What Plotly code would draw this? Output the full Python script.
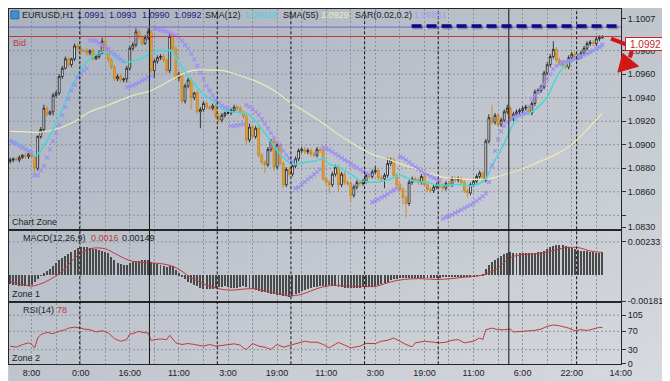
import base64
import plotly.graph_objects as go

W, H = 670, 381

# ---------------- data (prices in pips above 1.0800) ----------------
bar_start = -7          # bar index relative to the "8:00" label
open_first = 86
close_pips = [
    87, 88, 87, 89, 91, 90, 92,
    90, 80, 107, 113, 131, 126, 128, 142, 144, 158,
    165, 173, 168, 173, 184, 182, 180, 180, 178, 180,
    173, 175, 178, 188, 182, 172, 166, 156, 158, 155,
    156, 165, 182, 185, 196, 191, 186, 191, 196, 163,
    171, 174, 175, 172, 163, 192, 182, 157, 160, 137,
    150, 155, 140, 144, 128, 130, 135, 132, 131, 133,
    124, 121, 125, 127, 127, 129, 132, 131, 128, 124,
    104, 115, 107, 114, 91, 85, 83, 96, 103, 81,
    100, 84, 66, 79, 75, 82, 88, 95, 96, 94,
    95, 92, 91, 96, 95, 71, 68, 66, 75, 81,
    66, 75, 68, 67, 57, 64, 68, 67, 69, 74,
    73, 77, 78, 72, 71, 74, 84, 87, 74, 66,
    62, 55, 50, 68, 71, 70, 68, 73, 66, 62,
    61, 64, 66, 65, 63, 67, 66, 71, 70, 71,
    68, 61, 59, 66, 69, 73, 76, 70, 103, 123,
    119, 125, 117, 121, 128, 131, 122, 126, 128, 129,
    131, 132, 127, 135, 145, 146, 149, 161, 168, 175,
    181, 172, 170, 168, 166, 174, 177, 174, 175, 178,
    182, 186, 187, 186, 190, 191, 192,
]
wick_up = [
    2, 1, 2, 2, 1, 2, 1,
    2, 1, 1, 2, 3, 2, 1, 2, 2, 2,
    2, 2, 2, 1, 2, 2, 2, 1, 2, 1,
    2, 2, 2, 3, 2, 1, 2, 2, 2, 2,
    1, 2, 2, 2, 3, 2, 2, 2, 3, 2,
    2, 2, 2, 2, 1, 2, 2, 2, 2, 2,
    2, 2, 2, 1, 2, 2, 2, 2, 1, 2,
    2, 2, 2, 1, 2, 2, 2, 2, 2, 1,
    2, 3, 2, 2, 2, 2, 2, 2, 2, 2,
    2, 2, 2, 2, 2, 2, 2, 2, 2, 2,
    2, 2, 2, 2, 2, 2, 2, 2, 2, 2,
    2, 2, 2, 2, 2, 2, 2, 2, 2, 2,
    2, 2, 4, 2, 2, 2, 5, 2, 2, 2,
    2, 2, 2, 2, 2, 2, 2, 2, 2, 2,
    2, 2, 2, 2, 2, 2, 2, 2, 2, 2,
    2, 2, 2, 2, 2, 2, 2, 2, 2, 3,
    11, 2, 2, 2, 2, 3, 2, 2, 2, 2,
    2, 2, 2, 2, 2, 2, 2, 2, 2, 2,
    7, 2, 2, 2, 2, 2, 2, 2, 2, 2,
    2, 2, 2, 2, 2, 2, 1,
]
wick_dn = [
    2, 2, 1, 2, 1, 2, 2,
    1, 4, 2, 2, 2, 2, 1, 3, 2, 2,
    2, 1, 2, 2, 2, 2, 1, 2, 2, 2,
    2, 1, 2, 1, 2, 2, 2, 2, 2, 2,
    2, 3, 2, 2, 2, 2, 2, 1, 2, 2,
    6, 2, 2, 2, 2, 2, 2, 2, 3, 2,
    2, 2, 10, 2, 2, 14, 2, 2, 2, 2,
    2, 2, 2, 2, 1, 2, 2, 2, 2, 2,
    4, 2, 2, 2, 2, 2, 7, 2, 2, 3,
    2, 2, 3, 2, 2, 2, 2, 2, 2, 2,
    2, 2, 2, 2, 2, 2, 2, 7, 2, 2,
    6, 2, 2, 2, 5, 2, 2, 2, 2, 2,
    2, 2, 2, 2, 2, 8, 2, 2, 2, 2,
    2, 6, 12, 2, 2, 2, 2, 2, 2, 2,
    2, 2, 2, 2, 2, 2, 2, 2, 2, 2,
    2, 2, 4, 2, 2, 2, 2, 2, 2, 2,
    2, 2, 2, 2, 2, 2, 2, 2, 2, 2,
    2, 2, 2, 2, 2, 2, 2, 2, 2, 2,
    2, 2, 2, 2, 2, 2, 2, 2, 2, 2,
    2, 2, 2, 2, 2, 2, 1,
]
sar_pips = [
    103, 102, 100.5, 99, 97.5, 96, 94.5, 93,
    74, 74, 78, 82, 89, 96, 103, 110, 117, 125, 132, 139, 146, 151, 157,
    160, 163, 165,
    189, 188.6, 188, 186.4, 185, 182.8,
    181, 179, 177, 175, 173, 171,
    149, 149.5, 150.3, 151.7, 153, 154.5, 155.8, 157.2, 158.6,
    199, 198.3, 197.5, 196.7, 196.1, 195, 194,
    192.8, 191.1, 188.3, 185, 181.4, 177.2, 172.5, 167, 161.4, 155.8, 150.3,
    146.1, 142, 138.3, 135.6, 133.3, 131.7,
    130.6, 116, 116, 116.5, 117, 117.5,
    133.6, 132.2, 130, 128, 125.3, 121.7, 117.8, 114, 110, 105.8, 101.7,
    98.4, 94.7, 91.1, 88.3, 85.6,
    62.8, 64, 66, 68.3, 70.5, 72.5, 74.7, 76.7, 79,
    97.5, 96.7, 95.6, 93.9, 92.2, 90.6, 88.9, 87.2, 85.6, 83.9, 82.2, 80.6,
    78.9, 77.2, 75.8, 74.5,
    51.1, 52.2, 53.6, 55, 56.4, 58, 60, 61.7, 62.8,
    89.7, 88.9, 87.2, 85, 83, 81.1, 79.4, 77.8, 76.1, 74.5, 73.1, 71.7, 70.6, 69.4,
    37.2, 38.3, 39.4, 40.6, 42, 43.3, 44.7, 46.1, 47.5, 48.9, 50.5, 52.2, 54.2,
    56.1, 58.6,
    68.3, 82.2, 94.7, 104.5, 111.4, 116.1, 119.4, 121.7, 123.3, 124.5, 125.3,
    126.1, 127,
    132.2, 139.2, 142, 144.7, 148, 151.7, 155.8, 160, 164.2, 167, 168.3, 169.7,
    170.6, 171.4, 172.2, 173.1, 173.9, 175, 176.1, 177.5, 178.9, 180.3, 181.7,
    183.3, 185,
]
sma12_t = [-7, -3, 0, 1, 3, 6, 10, 14, 17, 20, 24, 26, 28, 30, 32, 35, 38, 42, 44, 45,
           47, 49, 52, 56, 59, 62, 65, 68, 70, 73, 76, 79, 82, 85, 89, 92, 95, 97, 100,
           104, 107, 110, 113, 116, 120, 123, 126, 129, 132, 136, 140, 143, 146, 148,
           150, 153, 155, 157, 159, 161, 163, 165, 168, 170, 172, 174, 176, 178, 180,
           182, 184, 186]
sma12_p = [104.5, 99, 93, 90, 95, 108, 130, 154.5, 167, 175, 179, 177, 172.5, 170, 170.5,
           172.5, 176.5, 180.5, 179.5, 180.5, 174, 166, 155, 143, 137.8, 130.8, 128, 127.5,
           127, 120, 110, 99, 89, 83.6, 85, 86, 87.8, 83.6, 80.8, 75, 69.7, 68.3, 68.3, 70,
           74, 71, 68.3, 68.3, 65.6, 65.8, 66, 65, 67, 71, 82, 96, 107, 118, 124.5, 126, 128,
           132, 140.6, 151.7, 161.4, 168, 172.5, 175, 176.7, 178, 180.8, 183]
sma55_t = [-7, -2, 3, 9, 14, 19, 25, 30, 35, 39, 42, 46, 49, 52, 56, 59, 63, 68, 74, 79,
           84, 90, 95, 100, 106, 111, 116, 122, 127, 132, 134, 137, 139, 144, 149, 155,
           160, 165, 171, 176, 181, 186]
sma55_p = [111.4, 111, 110.6, 114, 119.7, 128, 133.6, 139, 143.3, 146, 150, 155.8, 160,
           162.8, 163.6, 163.4, 162.8, 158.6, 153, 146, 136.4, 126.7, 118.3, 108.6, 98.9,
           92, 87.8, 82.2, 78, 73.9, 72.5, 71.5, 71.2, 70.5, 71, 75.3, 79.4, 85, 92, 100.3,
           112.8, 127]

# MACD histogram (units of 1e-5), one value per bar
macd_hist = [
    -62, -66, -70, -74, -76, -76, -75,
    -69, -50, -30, -5, 12, 28, 42, 65, 85, 105,
    120, 135, 150, 162, 177, 190, 200, 200, 196, 190,
    186, 180, 177, 172, 165, 152, 130, 108, 88, 75,
    69, 72, 84, 92, 98, 101, 104, 106, 108, 92,
    82, 75, 68, 62, 60, 64, 62, 39, 12, -10,
    -28, -45, -58, -67, -78, -87, -96, -99, -99, -95,
    -90, -85, -80, -76, -82, -87, -87, -87, -82, -76,
    -84, -92, -98, -104, -108, -115, -120, -125, -129, -134,
    -138, -141, -145, -148, -152, -145, -135, -124, -112, -102,
    -94, -89, -85, -81, -78, -76, -73, -70, -74, -78,
    -82, -86, -87, -87, -87, -87, -87, -87, -86, -85,
    -84, -83, -78, -72, -64, -55, -46, -37, -30, -24,
    -19, -18, -20, -22, -23, -23, -23, -23, -21, -19,
    -18, -18, -18, -18, -16, -15, -14, -12, -10, -8,
    -7, -7, -7, -7, -5, -3, 0, 3, 40, 70,
    90, 105, 118, 135, 147, 154, 160, 158, 154, 154,
    154, 154, 154, 156, 158, 161, 164, 172, 185, 195,
    204, 208, 211, 210, 204, 200, 192, 184, 177, 170,
    168, 166, 163, 160, 157, 158, 160,
]
signal_t = [-7, -3, 0, 3, 6, 10, 13, 16, 20, 24, 27, 30, 33, 36, 40, 43, 46, 49, 52, 56,
            59, 62, 65, 68, 72, 75, 78, 81, 84, 88, 91, 94, 97, 98, 102, 107, 112, 115,
            119, 124, 128, 132, 137, 141, 145, 148, 152, 155, 158, 162, 166, 171, 174,
            178, 182, 186]
signal_v = [-46, -64, -76, -60, -30, 28, 97, 154, 189, 184, 154, 120, 97, 90, 85, 78, 62,
            28, -18, -60, -83, -99, -104, -99, -94, -104, -117, -133, -145, -133, -110,
            -87, -74, -69, -76, -78, -78, -60, -37, -25, -25, -30, -23, -14, -7, 9, 51,
            108, 138, 147, 154, 177, 193, 193, 170, 159]
rsi_t = [-7, -5, -3, -1, 0, 1, 2, 3, 5, 7, 9, 11, 12, 14, 16, 17, 19, 21, 23, 25, 27, 29,
         31, 32, 33, 35, 36, 38, 39, 40, 42, 44, 45, 46, 47, 49, 51, 53, 56, 58, 60, 62,
         64, 66, 68, 69, 70, 72, 74, 76, 78, 80, 82, 84, 86, 89, 91, 93, 95, 97, 99, 100,
         102, 104, 107, 109, 112, 114, 116, 118, 120, 122, 124, 125, 128, 131, 133, 135,
         137, 139, 141, 144, 146, 147, 148, 150, 152, 154, 156, 157, 160, 162, 164, 166,
         168, 170, 172, 175, 177, 179, 181, 183, 185, 186]
rsi_v = [37.8, 35.6, 41, 45, 42, 34, 55.6, 62.8, 67.8, 65, 70, 73.5, 77, 79, 77, 75, 73.5,
         68.5, 71.4, 66.4, 54.2, 48.5, 52, 64.2, 65, 70, 67.8, 66.4, 50, 52, 53.5, 52, 61.4,
         52, 45, 41.4, 43.5, 41.4, 37.8, 41.4, 37.8, 39.2, 41.4, 42.8, 40, 34, 30.6, 43.5,
         37.8, 35.6, 30.6, 41.4, 35.6, 39.2, 43.5, 48.5, 46.4, 46.4, 41.4, 34.2, 42, 46, 40,
         34, 37.8, 43.5, 43.5, 48.5, 50.6, 55.6, 48.5, 41.4, 36.4, 45, 48.5, 46.4, 45, 46.4,
         50.6, 52, 45, 48.5, 55.6, 52, 73.5, 77, 73.5, 73.5, 75, 68.5, 70, 71.4, 72, 75,
         80.6, 84, 82, 77, 71.4, 73.5, 72, 75, 78.6, 78]

time_labels = ["8:00", "0:00", "16:00", "11:00", "3:00", "19:00", "11:00",
               "3:00", "19:00", "11:00", "6:00", "22:00", "14:00"]
day_breaks = [15.7, 60.5, 84.5, 108.5, 132.5, 177.6]
week_breaks = [38.4, 155.5]
price_grid = [1.0840, 1.0860, 1.0880, 1.0900, 1.0920, 1.0940, 1.0960, 1.0980]
price_ticks = [1.1007, 1.0980, 1.0960, 1.0940, 1.0920, 1.0900, 1.0880, 1.0860, 1.0840, 1.0830]
bid_price = 1.0992
hline_price = 1.1000
level_price = 1.1001
level_start = 123.8
macd_ticks = [0.00233, -0.00181]
rsi_ticks = [0, 30, 70, 105]

# ---------------- derived ----------------
def price(p):
    return 1.08 + p / 10000.0

n = len(close_pips)
t = list(range(bar_start, bar_start + n))
opens = [open_first] + close_pips[:-1]
highs = [max(o, c) + u for o, c, u in zip(opens, close_pips, wick_up)]
lows = [min(o, c) - d for o, c, d in zip(opens, close_pips, wick_dn)]

def px(x):
    return x / W

def py(y):
    return 1 - y / H

X_RANGE = [-7.36, 192]
XDOM = [0, px(623)]
MAIN_DOM = [py(224), py(1)]
MACD_DOM = [py(297), py(226)]
RSI_DOM = [py(361), py(299)]
MAIN_RANGE = [1.08283, 1.10154]
MACD_RANGE = [-0.00181, 0.003089]
RSI_RANGE = [-1.5, 131.3]

FONT = "Liberation Sans, Arial, sans-serif"
FS = 9
GRID = "#8b939f"
DARK = "#1e1e1e"

fig = go.Figure()

fig.add_trace(go.Candlestick(
    x=t, open=[price(v) for v in opens], high=[price(v) for v in highs],
    low=[price(v) for v in lows], close=[price(v) for v in close_pips],
    increasing=dict(fillcolor="#f4f4f4", line=dict(color="#141414", width=0.8)),
    decreasing=dict(fillcolor="#eba23a", line=dict(color="#c8841a", width=0.8)),
    whiskerwidth=0, showlegend=False, hoverinfo="skip", xaxis="x", yaxis="y"))
fig.add_trace(go.Scatter(x=sma55_t, y=[price(v) for v in sma55_p], mode="lines",
                         line=dict(color="#efe9b6", width=1.2, shape="spline"),
                         showlegend=False, hoverinfo="skip", xaxis="x", yaxis="y"))
fig.add_trace(go.Scatter(x=sma12_t, y=[price(v) for v in sma12_p], mode="lines",
                         line=dict(color="#4ad6d6", width=1.6, shape="spline"),
                         showlegend=False, hoverinfo="skip", xaxis="x", yaxis="y"))
fig.add_trace(go.Scatter(x=t, y=[price(v) for v in sar_pips], mode="markers",
                         marker=dict(symbol="x-thin", size=4, color="#9e8cf2",
                                     line=dict(width=1.1, color="#9e8cf2")),
                         showlegend=False, hoverinfo="skip", xaxis="x", yaxis="y"))

fig.add_trace(go.Bar(x=t, y=[v * 1e-5 for v in macd_hist], width=0.32,
                     marker=dict(color="#4a4a4a", line=dict(width=0)),
                     showlegend=False, hoverinfo="skip", xaxis="x2", yaxis="y2"))
fig.add_trace(go.Scatter(x=signal_t, y=[v * 1e-5 for v in signal_v], mode="lines",
                         line=dict(color="#c0393b", width=1, shape="spline"),
                         showlegend=False, hoverinfo="skip", xaxis="x2", yaxis="y2"))
fig.add_trace(go.Scatter(x=rsi_t, y=rsi_v, mode="lines",
                         line=dict(color="#c0393b", width=1),
                         showlegend=False, hoverinfo="skip", xaxis="x3", yaxis="y3"))

grid_vals = list(range(0, 193, 8))
bottom_text = [time_labels[i // 2] if i % 2 == 0 else "" for i in range(len(grid_vals))]

def xax(dom_anchor, show_labels):
    d = dict(domain=XDOM, range=X_RANGE, anchor=dom_anchor, showgrid=True, gridcolor=GRID,
             griddash="2px,2px", gridwidth=1, zeroline=False, showline=True, mirror=True,
             linecolor="#262626", linewidth=1, tickmode="array", tickvals=grid_vals,
             ticks="", fixedrange=True)
    if show_labels:
        d.update(ticktext=bottom_text, showticklabels=True,
                 tickfont=dict(family=FONT, size=FS, color=DARK))
    else:
        d.update(showticklabels=False)
    return d

def yax(dom, rng, vals, texts, anchor):
    return dict(domain=dom, range=rng, anchor=anchor, side="right", showgrid=False,
                zeroline=False, showline=True, mirror=True, linecolor="#262626",
                linewidth=1, tickmode="array", tickvals=vals, ticktext=texts,
                ticks="outside", ticklen=4, tickcolor="#333333",
                tickfont=dict(family=FONT, size=FS, color=DARK), fixedrange=True)

svg = ('<svg xmlns="http://www.w3.org/2000/svg" width="%d" height="%d">'
       '<defs><linearGradient id="g" x1="0" y1="0" x2="1" y2="1">'
       '<stop offset="0" stop-color="#a9b2c0"/><stop offset="0.55" stop-color="#c2c7cf"/>'
       '<stop offset="1" stop-color="#d7dadf"/></linearGradient></defs>'
       '<rect width="100%%" height="100%%" fill="url(#g)"/></svg>') % (W, H)
bg_src = "data:image/svg+xml;base64," + base64.b64encode(svg.encode()).decode()

fig.update_layout(
    width=W, height=H, margin=dict(l=0, r=0, t=0, b=0),
    paper_bgcolor="#c6cad1", plot_bgcolor="#bcc3cd",
    images=[dict(source=bg_src, xref="paper", yref="paper", x=0, y=1, sizex=1, sizey=1,
                 sizing="stretch", xanchor="left", yanchor="top", layer="below")],
    xaxis=dict(xax("y", False), rangeslider=dict(visible=False)),
    xaxis2=xax("y2", False),
    xaxis3=xax("y3", True),
    yaxis=yax(MAIN_DOM, MAIN_RANGE, price_ticks,
              ["%.4f" % v if v != 1.0840 else "" for v in price_ticks], "x"),
    yaxis2=yax(MACD_DOM, MACD_RANGE, macd_ticks, ["%.5f" % v for v in macd_ticks], "x2"),
    yaxis3=yax(RSI_DOM, RSI_RANGE, rsi_ticks, [str(v) for v in rsi_ticks], "x3"),
    bargap=0, boxgap=0.15, showlegend=False,
)

shapes = []
for g in price_grid:
    shapes.append(dict(type="line", xref="x domain", yref="y", x0=0, x1=1, y0=g, y1=g,
                       line=dict(color=GRID, width=1, dash="2px,2px"), layer="below"))
shapes.append(dict(type="line", xref="x2 domain", yref="y2", x0=0, x1=1,
                   y0=macd_ticks[0], y1=macd_ticks[0],
                   line=dict(color=GRID, width=1, dash="2px,2px"), layer="below"))
for r in rsi_ticks[1:]:
    shapes.append(dict(type="line", xref="x3 domain", yref="y3", x0=0, x1=1, y0=r, y1=r,
                       line=dict(color=GRID, width=1, dash="2px,2px"), layer="below"))
for b in day_breaks:
    shapes.append(dict(type="line", xref="x", yref="paper", x0=b, x1=b,
                       y0=RSI_DOM[0], y1=MAIN_DOM[1],
                       line=dict(color="#111111", width=1, dash="3px,2px")))
for b in week_breaks:
    shapes.append(dict(type="line", xref="x", yref="paper", x0=b, x1=b,
                       y0=RSI_DOM[0], y1=MAIN_DOM[1],
                       line=dict(color="#111111", width=1)))
shapes.append(dict(type="line", xref="x domain", yref="y", x0=0, x1=1, y0=hline_price,
                   y1=hline_price, line=dict(color="#7d63c8", width=1)))
shapes.append(dict(type="line", xref="x domain", yref="y", x0=0, x1=1, y0=bid_price,
                   y1=bid_price, line=dict(color="#c23a3a", width=1)))
# thick navy dashed level with its soft shadow
shapes.append(dict(type="line", xref="x", yref="y", x0=level_start + 0.4, x1=X_RANGE[1],
                   y0=level_price - 0.00012, y1=level_price - 0.00012,
                   line=dict(color="rgba(40,40,70,0.35)", width=4, dash="10px,5px")))
shapes.append(dict(type="line", xref="x", yref="y", x0=level_start, x1=X_RANGE[1],
                   y0=level_price, y1=level_price,
                   line=dict(color="#0a0a8c", width=3.5, dash="10px,5px")))
# header icon
shapes.append(dict(type="rect", xref="paper", yref="paper", x0=px(2), x1=px(10),
                   y0=py(11), y1=py(3), fillcolor="#3f8fd6", line=dict(color="#2a6aa8", width=1)))
# red hand-drawn arrow at the right
shapes.append(dict(type="path", xref="paper", yref="paper",
                   path="M %f %f L %f %f Q %f %f %f %f" % (
                       px(613), py(31), px(629), py(37), px(637), py(41), px(632), py(50)),
                   line=dict(color="#d01818", width=4)))
shapes.append(dict(type="path", xref="paper", yref="paper",
                   path="M %f %f L %f %f L %f %f Z" % (
                       px(620), py(65), px(625), py(46), px(641), py(59)),
                   fillcolor="#d01818", line=dict(color="#d01818", width=1)))
fig.update_layout(shapes=shapes)

ann = []
def text(x, y, s, color=DARK, size=FS, **kw):
    d = dict(xref="paper", yref="paper", x=px(x), y=py(y), text=s, showarrow=False,
             xanchor="left", yanchor="middle", font=dict(family=FONT, size=size, color=color))
    d.update(kw)
    ann.append(d)

navy = "#1c1f78"
text(11, 7, "EURUSD,H1")
text(67, 7, "%.4f" % price(opens[-1]), navy)
text(100, 7, "%.4f" % price(highs[-1]), navy)
text(133, 7, "%.4f" % price(lows[-1]), navy)
text(166, 7, "%.4f" % price(close_pips[-1]), navy)
text(198, 7, "SMA(12)")
text(237, 7, "1.09829", "#49d3d6")
text(277, 7, "SMA(55)")
text(316, 7, "1.0929", "#f1edb9")
text(350, 7, "SAR(0.02,0.2)")
text(410, 7, "1.09851", "#a898ee")
text(2, 35, "Bid", "#c23a3a")
text(1, 217, "Chart Zone")
text(12, 233, "MACD(12,26,9)")
text(81, 233, "0.0016", "#c0393b")
text(113, 233, "0.00149")
text(1, 290, "Zone 1")
text(12, 306, "RSI(14)")
text(47, 306, "78", "#c0393b")
text(1, 355, "Zone 2")
ann.append(dict(xref="paper", yref="paper", x=px(627), y=py(36), text="%.4f" % bid_price,
                showarrow=False, xanchor="left", yanchor="middle", width=39, height=12,
                bgcolor="#ffffff", bordercolor="#c02828", borderwidth=1, borderpad=0,
                font=dict(family=FONT, size=FS + 1, color="#c02828")))
fig.update_layout(annotations=ann)

fig.write_html("out.html")
